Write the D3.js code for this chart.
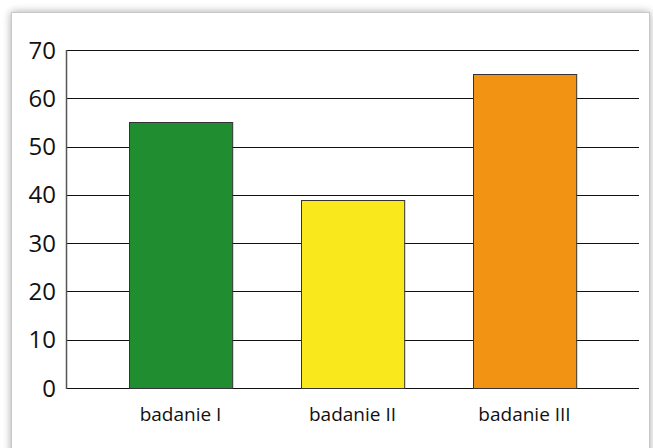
<!DOCTYPE html>
<html>
<head>
<meta charset="utf-8">
<script src="https://cdn.jsdelivr.net/npm/d3@7"></script>
<style>
  body { margin: 0; background: #fff; }
  svg { display: block; }
  text { font-family: "Open Sans", "Noto Sans", sans-serif; fill: #111; }
</style>
</head>
<body>
<svg id="chart" width="653" height="448"></svg>
<script>
// chart data
const categories = ['badanie I', 'badanie II', 'badanie III'];
const values = [55, 39, 65];
const barColors = ['#1f8d30', '#f9e81c', '#f39313'];
const yTicks = [0, 10, 20, 30, 40, 50, 60, 70];

const svg = d3.select('#chart');

// drop shadow for the white panel
const defs = svg.append('defs');
const f = defs.append('filter').attr('id', 'shadow')
  .attr('x', '-5%').attr('y', '-5%').attr('width', '110%').attr('height', '110%');
f.append('feGaussianBlur').attr('in', 'SourceAlpha').attr('stdDeviation', 4);
f.append('feOffset').attr('dx', 0).attr('dy', 0).attr('result', 'blur');
f.append('feComponentTransfer').append('feFuncA').attr('type', 'linear').attr('slope', 0.35);
const merge = f.append('feMerge');
merge.append('feMergeNode');
merge.append('feMergeNode').attr('in', 'SourceGraphic');

svg.append('rect')
  .attr('x', 11.5).attr('y', 12.5)
  .attr('width', 638).attr('height', 450)
  .attr('fill', '#fff')
  .attr('stroke', '#c8c8c8')
  .attr('filter', 'url(#shadow)');

// plot box
const plotLeft = 66, plotRight = 639, plotTop = 50, plotBottom = 388;

const y = d3.scaleLinear().domain([0, 70]).range([plotBottom, plotTop]);
const x = d3.scaleBand()
  .domain(categories)
  .range([plotLeft + 28.5, plotRight - 28.5])
  .paddingInner(0.4)
  .paddingOuter(0.2);

// horizontal grid lines
svg.append('g')
  .selectAll('line')
  .data(yTicks)
  .join('line')
  .attr('x1', plotLeft)
  .attr('x2', plotRight)
  .attr('y1', d => Math.round(y(d)) + 0.5)
  .attr('y2', d => Math.round(y(d)) + 0.5)
  .attr('stroke', '#111')
  .attr('stroke-width', 1);

// bars
svg.append('g')
  .selectAll('rect')
  .data(values)
  .join('rect')
  .attr('x', (d, i) => Math.round(x(categories[i])) + 0.5)
  .attr('y', d => Math.round(y(d)) + 0.5)
  .attr('width', x.bandwidth())
  .attr('height', d => plotBottom - Math.round(y(d)))
  .attr('fill', (d, i) => barColors[i])
  .attr('stroke', '#333')
  .attr('stroke-width', 1);

// left axis line
svg.append('line')
  .attr('x1', plotLeft + 0.5).attr('x2', plotLeft + 0.5)
  .attr('y1', plotTop).attr('y2', plotBottom + 1)
  .attr('stroke', '#555')
  .attr('stroke-width', 1.5);

// y tick labels
svg.append('g')
  .selectAll('text')
  .data(yTicks)
  .join('text')
  .attr('x', 56)
  .attr('y', d => y(d))
  .attr('dy', '0.36em')
  .attr('text-anchor', 'end')
  .style('font-size', '24px')
  .text(d => d);

// category labels
svg.append('g')
  .selectAll('text')
  .data(categories)
  .join('text')
  .attr('x', d => x(d) + x.bandwidth() / 2)
  .attr('y', 421)
  .attr('text-anchor', 'middle')
  .style('font-size', '19px')
  .text(d => d);
</script>
</body>
</html>
